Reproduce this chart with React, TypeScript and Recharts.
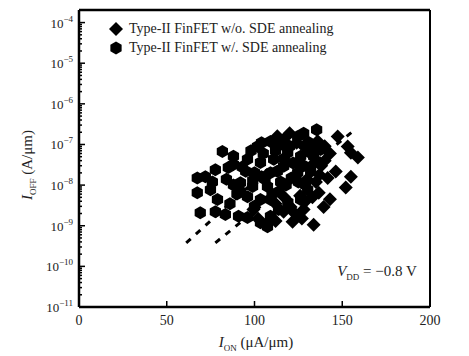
import React from 'react';
import { ScatterChart, Scatter, XAxis, YAxis, ReferenceLine } from 'recharts';

// I_ON (uA/um) vs I_OFF (A/um)
const withoutAnneal = [
  { ion: 147.4, ioff: 1.58e-7 }, { ion: 153.1, ioff: 8.9e-8 }, { ion: 158.9, ioff: 4.8e-8 },
  { ion: 154.9, ioff: 6.3e-8 }, { ion: 146.3, ioff: 2.15e-8 }, { ion: 141.7, ioff: 1.5e-8 },
  { ion: 154.9, ioff: 1.6e-8 }, { ion: 152.0, ioff: 8.7e-9 }, { ion: 136.6, ioff: 6.5e-9 },
  { ion: 139.4, ioff: 2.9e-9 }, { ion: 128.0, ioff: 2.5e-9 }, { ion: 121.7, ioff: 1.26e-9 },
  { ion: 133.7, ioff: 1.06e-9 }, { ion: 107.4, ioff: 1.19e-9 }, { ion: 120.6, ioff: 2.9e-9 },
  { ion: 116.6, ioff: 2.2e-9 }, { ion: 99.4, ioff: 2.5e-9 }, { ion: 136.0, ioff: 1.2e-7 },
  { ion: 140.0, ioff: 9.0e-8 }, { ion: 143.0, ioff: 6.0e-8 }, { ion: 128.0, ioff: 9.0e-8 },
  { ion: 134.0, ioff: 3.5e-8 }, { ion: 138.0, ioff: 3.0e-8 }, { ion: 125.0, ioff: 3.3e-8 },
  { ion: 130.0, ioff: 1.4e-8 }, { ion: 117.0, ioff: 5.0e-9 },
  { ion: 112.0, ioff: 3.5e-9 }, { ion: 126.0, ioff: 5.5e-9 }, { ion: 135.0, ioff: 1.2e-8 },
  { ion: 120.0, ioff: 1.9e-7 }, { ion: 113.0, ioff: 1.6e-7 }, { ion: 129.0, ioff: 4.0e-9 },
  { ion: 143.0, ioff: 4.5e-9 }, { ion: 102.0, ioff: 1.5e-9 }, { ion: 140.0, ioff: 4.0e-8 },
  { ion: 133.0, ioff: 8.0e-8 }, { ion: 124.0, ioff: 1.1e-7 }, { ion: 117.0, ioff: 9.0e-8 },
  { ion: 137.0, ioff: 1.8e-8 }, { ion: 133.0, ioff: 5.0e-9 }, { ion: 123.0, ioff: 2.0e-9 },
  { ion: 112.0, ioff: 1.3e-9 }, { ion: 127.0, ioff: 1.5e-9 },
];

const withAnneal = [
  { ion: 67.4, ioff: 1.5e-8 }, { ion: 67.4, ioff: 6.5e-9 }, { ion: 69.1, ioff: 2.1e-9 },
  { ion: 74.9, ioff: 7.7e-9 }, { ion: 76.0, ioff: 1.2e-8 }, { ion: 81.7, ioff: 6.7e-8 },
  { ion: 88.0, ioff: 5.1e-8 }, { ion: 77.7, ioff: 2.4e-8 }, { ion: 85.1, ioff: 2.7e-8 },
  { ion: 78.9, ioff: 4.4e-9 }, { ion: 77.7, ioff: 2.2e-9 }, { ion: 83.4, ioff: 1.9e-9 },
  { ion: 90.9, ioff: 1.7e-9 }, { ion: 96.0, ioff: 1.6e-9 }, { ion: 92.0, ioff: 1.15e-8 },
  { ion: 98.9, ioff: 9.2e-9 }, { ion: 96.0, ioff: 5.2e-9 }, { ion: 103.4, ioff: 4.4e-9 },
  { ion: 96.0, ioff: 4.3e-8 }, { ion: 101.7, ioff: 8.9e-8 }, { ion: 109.1, ioff: 1.19e-7 },
  { ion: 116.6, ioff: 1.33e-7 }, { ion: 124.6, ioff: 1.58e-7 }, { ion: 130.9, ioff: 1.12e-7 },
  { ion: 137.7, ioff: 7.5e-8 }, { ion: 103.4, ioff: 3.6e-8 }, { ion: 110.9, ioff: 4.3e-8 },
  { ion: 118.9, ioff: 6.3e-8 }, { ion: 126.3, ioff: 5.1e-8 }, { ion: 133.7, ioff: 5.1e-8 },
  { ion: 109.1, ioff: 2.0e-8 }, { ion: 116.6, ioff: 2.9e-8 }, { ion: 124.6, ioff: 2.0e-8 },
  { ion: 132.0, ioff: 2.15e-8 }, { ion: 107.4, ioff: 9.2e-9 }, { ion: 114.9, ioff: 1.2e-8 },
  { ion: 126.3, ioff: 4.4e-9 }, { ion: 130.3, ioff: 7.7e-9 }, { ion: 109.1, ioff: 4.4e-9 },
  { ion: 113.7, ioff: 2.5e-9 }, { ion: 135.4, ioff: 2.3e-7 }, { ion: 128.0, ioff: 1.9e-7 },
  { ion: 72.0, ioff: 1.6e-8 }, { ion: 88.0, ioff: 1.0e-8 }, { ion: 86.0, ioff: 3.5e-9 },
  { ion: 105.0, ioff: 6.0e-8 }, { ion: 120.0, ioff: 9.0e-8 }, { ion: 112.0, ioff: 7.0e-8 },
  { ion: 100.0, ioff: 2.0e-8 }, { ion: 93.0, ioff: 2.8e-8 }, { ion: 106.0, ioff: 1.4e-8 },
  { ion: 121.0, ioff: 1.5e-8 }, { ion: 119.0, ioff: 3.8e-9 }, { ion: 109.1, ioff: 1.7e-9 },
  { ion: 103.4, ioff: 1.19e-9 }, { ion: 107.4, ioff: 9.4e-10 }, { ion: 90.0, ioff: 6.0e-9 },
  { ion: 84.0, ioff: 1.4e-8 }, { ion: 98.0, ioff: 7.0e-8 }, { ion: 104.0, ioff: 1.1e-7 },
  { ion: 112.0, ioff: 1.0e-7 }, { ion: 117.0, ioff: 4.5e-8 }, { ion: 122.0, ioff: 3.5e-8 },
  { ion: 128.0, ioff: 3.0e-8 }, { ion: 131.0, ioff: 6.5e-8 }, { ion: 113.0, ioff: 2.2e-8 },
  { ion: 104.0, ioff: 1.6e-8 }, { ion: 110.0, ioff: 6.0e-9 }, { ion: 118.0, ioff: 1.0e-8 },
  { ion: 125.0, ioff: 1.2e-8 }, { ion: 129.0, ioff: 1.0e-8 }, { ion: 99.0, ioff: 1.3e-8 },
  { ion: 95.0, ioff: 2.2e-8 }, { ion: 88.0, ioff: 3.2e-8 }, { ion: 92.0, ioff: 7.0e-9 },
  { ion: 100.0, ioff: 3.0e-9 }, { ion: 114.0, ioff: 7.0e-9 },
];

// dashed guide lines (end points)
const guideA = [{ x: 61.1, y: 3.8e-10 }, { x: 136.6, y: 3.3e-7 }];
const guideB = [{ x: 77.7, y: 3.8e-10 }, { x: 157.1, y: 2.3e-7 }];

const xTicks = [0, 50, 100, 150, 200];
const yMajor = [1e-11, 1e-10, 1e-9, 1e-8, 1e-7, 1e-6, 1e-5, 1e-4];
const yMinorSteps = [2, 3, 4, 5, 6, 7, 8, 9];
const yTicks = [
  ...yMajor,
  ...yMajor.slice(0, -1).flatMap((m) => yMinorSteps.map((s) => m * s)),
];
const yTop = 2.04e-4;

const serif = '"Liberation Serif", "DejaVu Serif", serif';

const Diamond = ({ cx, cy }: any) => (
  <polygon points={`${cx},${cy - 7} ${cx + 7},${cy} ${cx},${cy + 7} ${cx - 7},${cy}`} fill="#000" />
);

const Hexagon = ({ cx, cy }: any) => {
  const r = 6.5;
  const pts = [0, 1, 2, 3, 4, 5]
    .map((i) => {
      const a = (Math.PI / 3) * i + Math.PI / 6;
      return `${cx + r * Math.cos(a)},${cy + r * Math.sin(a)}`;
    })
    .join(' ');
  return <polygon points={pts} fill="#000" />;
};

const YTick = ({ x, y, payload }: any) => {
  const lg = Math.log10(payload.value);
  const major = Math.abs(lg - Math.round(lg)) < 1e-6;
  return (
    <g>
      <line x1={x} x2={x + (major ? 6 : 3)} y1={y} y2={y} stroke="#000" strokeWidth={1.5} />
      {major && (
        <text x={x - 6} y={y + 5} textAnchor="end" fontFamily={serif} fontSize={13} fill="#222">
          10
          <tspan dy={-6} fontSize={9}>{`−${-Math.round(lg)}`}</tspan>
        </text>
      )}
    </g>
  );
};

const XTick = ({ x, y, payload }: any) => (
  <g>
    {payload.value > 0 && payload.value < 200 && (
      <line x1={x} x2={x} y1={y} y2={y - 6} stroke="#000" strokeWidth={1.5} />
    )}
    <text x={x} y={y + 18} textAnchor="middle" fontFamily={serif} fontSize={14} fill="#222">
      {payload.value}
    </text>
  </g>
);

const LegendBox = () => (
  <div
    style={{
      position: 'absolute', left: 108, top: 19, fontFamily: serif, fontSize: 14,
      color: '#222', lineHeight: '19px', whiteSpace: 'nowrap',
    }}
  >
    <div style={{ display: 'flex', alignItems: 'center' }}>
      <svg width={16} height={16}><Diamond cx={8} cy={8} /></svg>
      <span style={{ marginLeft: 5 }}>Type-II FinFET w/o. SDE annealing</span>
    </div>
    <div style={{ display: 'flex', alignItems: 'center' }}>
      <svg width={16} height={16}><Hexagon cx={8} cy={8} /></svg>
      <span style={{ marginLeft: 5 }}>Type-II FinFET w/. SDE annealing</span>
    </div>
  </div>
);

export default function App() {
  return (
    <div style={{ position: 'absolute', left: 0, top: 0, width: 469, height: 356, background: '#fff' }}>
      <ScatterChart width={469} height={356} margin={{ top: 10, right: 39, bottom: 0, left: 0 }}>
        <XAxis
          type="number"
          dataKey="ion"
          domain={[0, 200]}
          ticks={xTicks}
          tick={<XTick />}
          tickSize={0}
          tickMargin={0}
          tickLine={false}
          height={49}
          axisLine={{ stroke: '#000', strokeWidth: 2.5 }}
        />
        <YAxis
          type="number"
          dataKey="ioff"
          scale="log"
          domain={[1e-11, yTop]}
          allowDataOverflow
          ticks={yTicks}
          interval={0}
          tick={<YTick />}
          tickSize={0}
          tickMargin={0}
          tickLine={false}
          width={79}
          axisLine={{ stroke: '#000', strokeWidth: 2.5 }}
        />
        <ReferenceLine x={200} stroke="#000" strokeWidth={2} />
        <ReferenceLine y={yTop} stroke="#000" strokeWidth={2.5} />
        <ReferenceLine segment={guideA} stroke="#000" strokeWidth={3} strokeDasharray="6 7" />
        <ReferenceLine segment={guideB} stroke="#000" strokeWidth={3} strokeDasharray="6 7" />
        <Scatter name="w/o" data={withoutAnneal} shape={<Diamond />} isAnimationActive={false} />
        <Scatter name="w/" data={withAnneal} shape={<Hexagon />} isAnimationActive={false} />
      </ScatterChart>
      <LegendBox />
      <div
        style={{
          position: 'absolute', left: 28, top: 165, transform: 'translate(-50%, -50%) rotate(-90deg)',
          fontFamily: serif, fontSize: 15, color: '#222', whiteSpace: 'nowrap',
        }}
      >
        <i>I</i><sub style={{ fontSize: 9 }}>OFF</sub> (A/μm)
      </div>
      <div
        style={{
          position: 'absolute', left: 256, top: 343, transform: 'translate(-50%, -50%)',
          fontFamily: serif, fontSize: 15, color: '#222', whiteSpace: 'nowrap',
        }}
      >
        <i>I</i><sub style={{ fontSize: 9 }}>ON</sub> (μA/μm)
      </div>
      <div
        style={{
          position: 'absolute', left: 377, top: 272, transform: 'translate(-50%, -50%)',
          fontFamily: serif, fontSize: 15, color: '#222', whiteSpace: 'nowrap',
        }}
      >
        <i>V</i><sub style={{ fontSize: 9 }}>DD</sub> = −0.8 V
      </div>
    </div>
  );
}
